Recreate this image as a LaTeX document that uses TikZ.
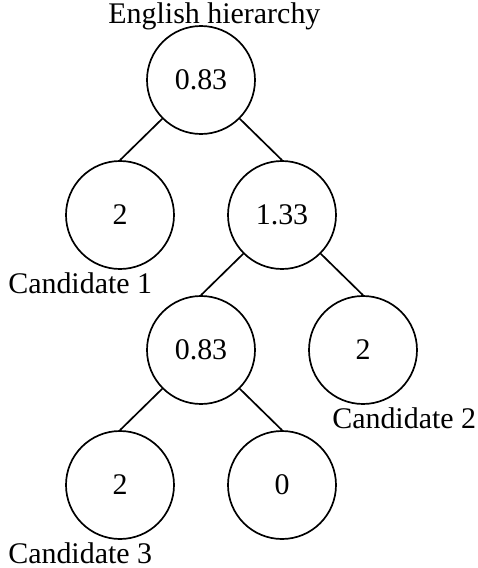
\documentclass[tikz,border=0pt]{standalone}
\usepackage{fontspec}
\setmainfont{Liberation Serif}
\usepackage{tikz}

\tikzset{
  valnode/.style={draw, circle, line width=1.2pt, minimum size=2.7cm, inner sep=0pt},
  candlabel/.style={anchor=base west, inner sep=0pt},
  edge/.style={line width=1.2pt}
}

\begin{document}
\begin{tikzpicture}[font=\fontsize{21.3}{25}\selectfont]
            \useasboundingbox (0,0) rectangle (11.95,-14.2);
            \node [valnode] (root) at (5.025,-2.0) {0.83};
            \node [valnode] (lefta) at (3.0,-5.375) {2};
            \node [valnode] (righta) at (7.05,-5.375) {1.33};
            \node [valnode] (leftb) at (5.025,-8.75) {0.83};
            \node [valnode] (rightb) at (9.075,-8.75) {2};
            \node [valnode] (leftc) at (3.0,-12.125) {2};
            \node [valnode] (rightc) at (7.05,-12.125) {0};

            \node [anchor=base, inner sep=0pt] (title) at (5.36,-0.575) {English hierarchy};
            \node [candlabel] (cand1) at (0.2,-7.325) {Candidate 1};
            \node [candlabel] (cand2) at (8.3,-10.7) {Candidate 2};
            \node [candlabel] (cand3) at (0.2,-14.075) {Candidate 3};

            \draw[edge] (root.south west) -- (lefta.north);
            \draw[edge] (root.south east) -- (righta.north);
            \draw[edge] (righta.south west) -- (leftb.north);
            \draw[edge] (righta.south east) -- (rightb.north);
            \draw[edge] (leftb.south west) -- (leftc.north);
            \draw[edge] (leftb.south east) -- (rightc.north);
        \end{tikzpicture}
\end{document}
